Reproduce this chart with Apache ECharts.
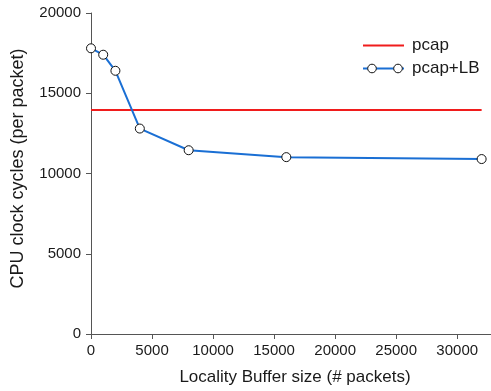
<!DOCTYPE html>
<html>
<head>
<meta charset="utf-8">
<script src="https://cdn.jsdelivr.net/npm/echarts@6/dist/echarts.min.js"></script>
<style>
  html, body { margin: 0; padding: 0; background: #fff; }
  #chart { width: 491px; height: 391px; }
</style>
</head>
<body>
<div id="chart"></div>
<script>
// Buffer sizes (packets) and measured cycles per packet
const bufferSizes = [0, 1000, 2000, 4000, 8000, 16000, 32000];
const lbCycles = [17800, 17400, 16400, 12800, 11450, 11020, 10900];
const pcapCycles = 13950;
const xTicks = [0, 5000, 10000, 15000, 20000, 25000, 30000];
const xMax = 32768;

const FONT = '"Liberation Sans", Arial, sans-serif';
const AXIS_COLOR = '#555';
const TEXT_COLOR = '#1a1a1a';
const RED = '#f01c1c';
const BLUE = '#1a6fd4';

// Legend key for the marked line: a line with an open circle near each end
const lbKeySvg =
  "<svg xmlns='http://www.w3.org/2000/svg' width='41' height='14'>" +
  "<line x1='0' y1='7' x2='41' y2='7' stroke='" + BLUE + "' stroke-width='2'/>" +
  "<circle cx='9' cy='7' r='4.3' fill='#fff' stroke='#111' stroke-width='1'/>" +
  "<circle cx='35' cy='7' r='4.3' fill='#fff' stroke='#111' stroke-width='1'/>" +
  "</svg>";
const lbKeyIcon = 'image://data:image/svg+xml;charset=utf-8,' + encodeURIComponent(lbKeySvg);

const chart = echarts.init(document.getElementById('chart'), null, { renderer: 'canvas' });

chart.setOption({
  animation: false,
  backgroundColor: '#fff',
  textStyle: { fontFamily: FONT },
  grid: { left: 91, right: 0, top: 13, bottom: 57, containLabel: false },
  legend: {
    orient: 'vertical',
    left: 363,
    top: 37,
    padding: 0,
    itemWidth: 41,
    itemHeight: 14,
    itemGap: 6,
    textStyle: { fontSize: 17, color: TEXT_COLOR, fontFamily: FONT, padding: [0, 0, 0, 3] },
    data: [
      { name: 'pcap', icon: 'path://M0,6H41V8H0Z', itemStyle: { color: RED } },
      { name: 'pcap+LB', icon: lbKeyIcon }
    ]
  },
  xAxis: {
    type: 'value',
    min: 0,
    max: xMax,
    name: 'Locality Buffer size (# packets)',
    nameLocation: 'middle',
    nameGap: 35,
    nameTextStyle: { fontSize: 17, color: TEXT_COLOR, fontFamily: FONT, padding: [0, 0, 0, 8] },
    axisLine: { show: true, lineStyle: { color: AXIS_COLOR, width: 1 } },
    axisTick: { show: true, length: 5, lineStyle: { color: AXIS_COLOR }, customValues: xTicks },
    axisLabel: {
      fontSize: 15, color: TEXT_COLOR, margin: 9, fontFamily: FONT,
      customValues: xTicks,
      formatter: v => String(v)
    },
    splitLine: { show: false }
  },
  yAxis: {
    type: 'value',
    min: 0,
    max: 20000,
    interval: 5000,
    name: 'CPU clock cycles (per packet)',
    nameLocation: 'middle',
    nameGap: 64,
    nameTextStyle: { fontSize: 18, color: TEXT_COLOR, fontFamily: FONT, padding: [0, 0, 0, 10] },
    axisLine: { show: true, lineStyle: { color: AXIS_COLOR, width: 1 } },
    axisTick: { show: true, length: 5, lineStyle: { color: AXIS_COLOR } },
    axisLabel: { fontSize: 15, color: TEXT_COLOR, margin: 10, fontFamily: FONT, formatter: v => String(v) },
    splitLine: { show: false }
  },
  series: [
    {
      name: 'pcap',
      type: 'line',
      data: [[0, pcapCycles], [bufferSizes[bufferSizes.length - 1], pcapCycles]],
      showSymbol: false,
      symbol: 'none',
      lineStyle: { color: RED, width: 2 },
      itemStyle: { color: RED },
      z: 2
    },
    {
      name: 'pcap+LB',
      type: 'line',
      data: bufferSizes.map((x, i) => [x, lbCycles[i]]),
      symbol: 'circle',
      symbolSize: 9,
      lineStyle: { color: BLUE, width: 2 },
      itemStyle: { color: '#fff', borderColor: '#111', borderWidth: 1 },
      z: 3
    }
  ]
});
</script>
</body>
</html>
